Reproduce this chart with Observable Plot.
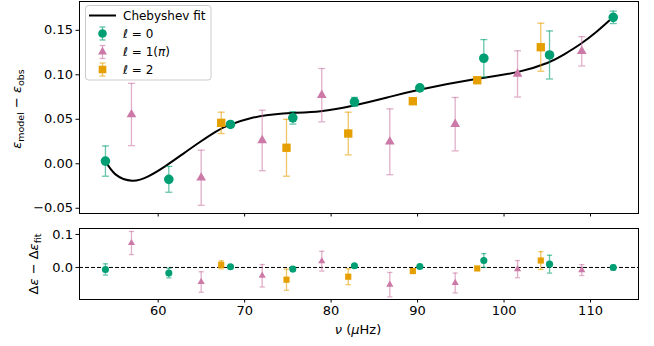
<!DOCTYPE html>
<html><head><meta charset="utf-8">
<script src="https://cdn.jsdelivr.net/npm/d3@7"></script>
<script src="https://cdn.jsdelivr.net/npm/@observablehq/plot@0.6"></script>
<style>
body{margin:0;background:#fff;font-family:"DejaVu Sans",sans-serif;}
#wrap{position:relative;width:654px;height:346px;}
#wrap svg{display:block;}
#legend{position:absolute;left:85px;top:5px;}
</style></head><body><div id="wrap"></div>
<script>
// ---- data ----
const nuL0  = [53.90, 61.23, 68.36, 75.57, 82.70, 90.26, 97.66, 105.26, 112.63];
const epsL0 = [0.0030, -0.0175, 0.0442, 0.0516, 0.0696, 0.0853, 0.1186, 0.1223, 0.1646];
const errL0 = [0.017, 0.0145, 0.002, 0.007, 0.005, 0.002, 0.021, 0.027, 0.007];
const resL0 = [-0.006, -0.017, 0.002, -0.005, 0.005, 0.003, 0.021, 0.010, 0.000];

const nuL1  = [56.91, 64.97, 72.03, 78.92, 86.79, 94.35, 101.56, 108.99];
const epsL1 = [0.0554, -0.0157, 0.0262, 0.0771, 0.0247, 0.0445, 0.1010, 0.1264];
const errL1 = [0.035, 0.031, 0.034, 0.030, 0.037, 0.030, 0.026, 0.0165];
const resL1 = [0.074, -0.044, -0.025, 0.019, -0.052, -0.047, -0.005, -0.008];

const nuL2  = [67.29, 74.84, 81.98, 89.45, 96.90, 104.25];
const epsL2 = [0.0460, 0.0180, 0.0340, 0.0703, 0.0939, 0.1310];
const errL2 = [0.012, 0.032, 0.024, 0.003, 0.003, 0.027];
const resL2 = [0.008, -0.037, -0.028, -0.011, -0.003, 0.021];

const fitNu  = [53.90, 55.06, 56.99, 58.91, 60.84, 62.78, 64.70, 66.63, 68.17, 70.68, 74.15, 78.78, 82.62, 86.49, 90.34, 96.90, 101.52, 104.99, 106.91, 108.84, 110.77, 112.63];
const fitEps = [0.0030, -0.0119, -0.0190, -0.0138, -0.0026, 0.0105, 0.0236, 0.0359, 0.0434, 0.0512, 0.0561, 0.0591, 0.0655, 0.0745, 0.0835, 0.0955, 0.1030, 0.1133, 0.1227, 0.1346, 0.1489, 0.1649];

const xTicks = [60, 70, 80, 90, 100, 110];
const yTicksTop = [-0.05, 0, 0.05, 0.10, 0.15];
const yTicksBot = [0.0, 0.1];

// ---- styling ----
const C0 = "#009E73", C1 = "#CC79A7", C2 = "#E69F00";
const W = 654;
const xDomain = [50.9, 115.55];
const font = {fontFamily: "DejaVu Sans", fontSize: "13px", background: "transparent", color: "black"};

function rows(nu, vals, err) { return nu.map((x, i) => ({x, y: vals[i], e: err[i]})); }
function capSym(h) { return {draw(ctx) { ctx.moveTo(-h, 0); ctx.lineTo(h, 0); }}; }
function errMarks(data, color, cap) {
  const o = {stroke: color, strokeOpacity: 0.6, strokeWidth: 1.3};
  const sym = capSym(cap);
  return [
    Plot.ruleX(data, {x: "x", y1: d => d.y - d.e, y2: d => d.y + d.e, ...o}),
    Plot.dot(data, {x: "x", y: d => d.y + d.e, symbol: sym, r: 3, fill: "none", ...o}),
    Plot.dot(data, {x: "x", y: d => d.y - d.e, symbol: sym, r: 3, fill: "none", ...o})
  ];
}
function pointMarks(d0, d1, d2, s) {
  return [
    ...errMarks(d0, C0, 3.5 * s), ...errMarks(d1, C1, 3.5 * s), ...errMarks(d2, C2, 3.5 * s),
    Plot.dot(d0, {x: "x", y: "y", symbol: "circle", r: 4.8 * s, fill: C0, stroke: "none"}),
    Plot.dot(d1, {x: "x", y: "y", symbol: "triangle", r: 3.6 * s, fill: C1, stroke: "none"}),
    Plot.dot(d2, {x: "x", y: "y", symbol: "square", r: 4.7 * s, fill: C2, stroke: "none"})
  ];
}

const top0 = rows(nuL0, epsL0, errL0), top1 = rows(nuL1, epsL1, errL1), top2 = rows(nuL2, epsL2, errL2);
const bot0 = rows(nuL0, resL0, errL0), bot1 = rows(nuL1, resL1, errL1), bot2 = rows(nuL2, resL2, errL2);
const fit = fitNu.map((x, i) => ({x, y: fitEps[i]}));

const topPlot = Plot.plot({
  width: W, height: 222,
  marginTop: 1, marginBottom: 9, marginLeft: 79, marginRight: W - 638,
  style: font,
  x: {domain: xDomain},
  y: {domain: [-0.0559, 0.1824]},
  marks: [
    Plot.axisY({ticks: yTicksTop, tickFormat: d3.format(".2f"), tickSize: 3.5, tickPadding: 3, label: null}),
    Plot.axisX({ticks: xTicks, tickSize: 3.5, tickFormat: () => "", label: null}),
    Plot.line(fit, {x: "x", y: "y", stroke: "black", strokeWidth: 2, curve: "natural"}),
    ...pointMarks(top0, top1, top2, 1),
    Plot.frame({stroke: "black", strokeWidth: 1})
  ]
});

const botPlot = Plot.plot({
  width: W, height: 124,
  marginTop: 6, marginBottom: 47, marginLeft: 79, marginRight: W - 638,
  style: font,
  x: {domain: xDomain},
  y: {domain: [-0.097, 0.118]},
  marks: [
    Plot.axisY({ticks: yTicksBot, tickFormat: d3.format(".1f"), tickSize: 3.5, tickPadding: 3, label: null}),
    Plot.axisX({ticks: xTicks, tickSize: 3.5, tickPadding: 3, tickFormat: d3.format("d"), label: null}),
    Plot.ruleY([0], {stroke: "black", strokeWidth: 1, strokeDasharray: "4,2"}),
    ...pointMarks(bot0, bot1, bot2, 0.74),
    Plot.frame({stroke: "black", strokeWidth: 1})
  ]
});

const wrap = document.getElementById("wrap");
wrap.appendChild(topPlot);
wrap.appendChild(botPlot);

// axis labels with subscripts
function addLabel(svg, x, y, rotate, parts) {
  const t = d3.select(svg).append("text")
    .attr("transform", `translate(${x},${y})` + (rotate ? " rotate(-90)" : ""))
    .attr("text-anchor", "middle").attr("font-size", 13).attr("fill", "black")
    .attr("font-family", "DejaVu Sans");
  let shift = 0;
  for (const p of parts) {
    const s = t.append("tspan").text(p.t);
    if (p.i) s.attr("font-style", "italic");
    const target = p.sub ? 3 : 0;
    if (target !== shift) { s.attr("dy", target - shift); shift = target; }
    if (p.sub) s.attr("font-size", 9.5);
  }
}
addLabel(topPlot, 21, 109, true, [
  {t: "ε", i: true}, {t: "model", sub: true}, {t: " − "}, {t: "ε", i: true}, {t: "obs", sub: true}
]);
addLabel(botPlot, 38, 42, true, [
  {t: "Δ"}, {t: "ε", i: true}, {t: " − Δ"}, {t: "ε", i: true}, {t: "fit", sub: true}
]);
addLabel(botPlot, 358, 112, false, [
  {t: "ν", i: true}, {t: " ("}, {t: "μ", i: true}, {t: "Hz)"}
]);

// legend
const lg = d3.select(wrap).append("svg").attr("id", "legend").attr("width", 128).attr("height", 78);
lg.append("rect").attr("x", 0.5).attr("y", 0.5).attr("width", 125.5).attr("height", 74.5).attr("rx", 3)
  .attr("fill", "white").attr("fill-opacity", 0.85).attr("stroke", "#cccccc");
lg.append("line").attr("x1", 4).attr("x2", 31).attr("y1", 10.5).attr("y2", 10.5).attr("stroke", "black").attr("stroke-width", 2);
const entries = [
  {y: 28.5, c: C0, sym: d3.symbolCircle, size: Math.PI * 4.3 * 4.3},
  {y: 47, c: C1, sym: d3.symbolTriangle, size: Math.PI * 3.3 * 3.3},
  {y: 64.5, c: C2, sym: d3.symbolSquare, size: Math.PI * 4.3 * 4.3}
];
for (const e of entries) {
  const g = lg.append("g").attr("transform", `translate(17.5,${e.y})`);
  g.append("line").attr("y1", -6.5).attr("y2", 6.5).attr("stroke", e.c).attr("stroke-opacity", 0.6).attr("stroke-width", 1.3);
  g.append("line").attr("x1", -3).attr("x2", 3).attr("y1", -6.5).attr("y2", -6.5).attr("stroke", e.c).attr("stroke-opacity", 0.6).attr("stroke-width", 1.3);
  g.append("line").attr("x1", -3).attr("x2", 3).attr("y1", 6.5).attr("y2", 6.5).attr("stroke", e.c).attr("stroke-opacity", 0.6).attr("stroke-width", 1.3);
  g.append("path").attr("d", d3.symbol(e.sym, e.size)()).attr("fill", e.c);
}
const texts = [
  {y: 10.5, parts: [{t: "Chebyshev fit"}]},
  {y: 28.5, parts: [{t: "ℓ", i: true}, {t: " = 0"}]},
  {y: 47, parts: [{t: "ℓ", i: true}, {t: " = 1("}, {t: "π", i: true}, {t: ")"}]},
  {y: 64.5, parts: [{t: "ℓ", i: true}, {t: " = 2"}]}
];
for (const tx of texts) {
  const t = lg.append("text").attr("x", 38).attr("y", tx.y).attr("dy", "0.36em")
    .attr("font-size", 12).attr("font-family", "DejaVu Sans").attr("fill", "black");
  for (const p of tx.parts) {
    const s = t.append("tspan").text(p.t);
    if (p.i) s.attr("font-style", "italic");
  }
}
</script></body></html>
